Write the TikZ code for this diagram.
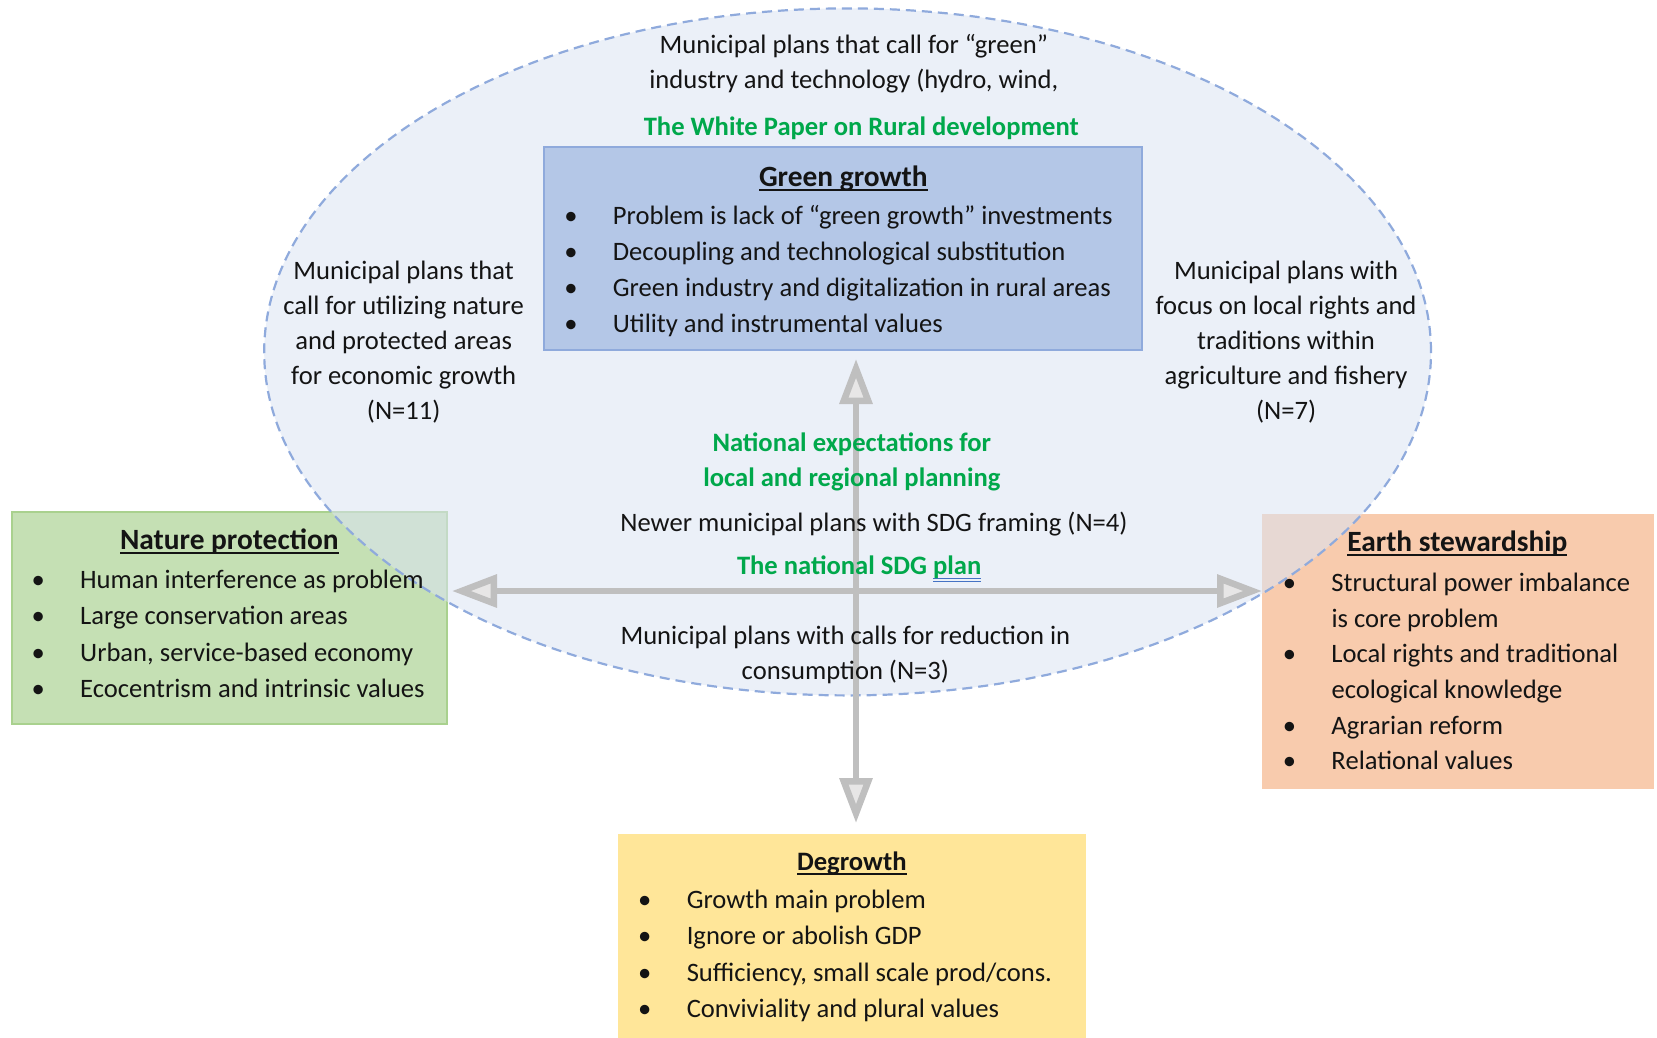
\documentclass[tikz,border=0pt]{standalone}
\usepackage{fontspec}
\setmainfont{Carlito}
\usetikzlibrary{arrows.meta}
\definecolor{ellfill}{RGB}{218,227,243}
\definecolor{elldraw}{RGB}{143,170,220}
\definecolor{ggfill}{RGB}{180,199,231}
\definecolor{ggdraw}{RGB}{143,170,220}
\definecolor{npfill}{RGB}{197,224,180}
\definecolor{npdraw}{RGB}{169,209,142}
\definecolor{esfill}{RGB}{248,203,173}
\definecolor{dgfill}{RGB}{255,230,153}
\definecolor{axisgray}{RGB}{191,191,191}
\definecolor{headfill}{RGB}{231,230,230}
\definecolor{greentxt}{RGB}{0,168,75}
\definecolor{txtc}{RGB}{20,20,20}
\definecolor{ulblue}{RGB}{68,114,196}
\newcommand\myul[1]{\setbox0\hbox{#1}\rlap{\rule[-4.5pt]{\wd0}{1.9pt}}\box0}
\newcommand\myuldbl[1]{\setbox0\hbox{#1}\rlap{\textcolor{ulblue}{\rule[-4.5pt]{\wd0}{0.9pt}}}\rlap{\textcolor{ulblue}{\rule[-7pt]{\wd0}{0.9pt}}}\box0}
\newcommand\mybul{\makebox[10pt][c]{\textbullet}\hspace{37pt}}
\begin{document}
\begin{tikzpicture}[x=1pt,y=-1pt,
  txt/.style={font=\fontsize{26.6}{34.9}\selectfont, inner sep=0pt, align=center, text=txtc},
  gtxt/.style={txt, font=\fontsize{26.6}{34.9}\selectfont\bfseries, text=greentxt},
  ttl/.style={txt, font=\fontsize{29.4}{34.9}\selectfont\bfseries},
  blist/.style={font=\fontsize{26.6}{36.3}\selectfont, inner sep=0pt, align=left, anchor=west, text=txtc},
  box/.style={inner sep=0pt, anchor=center},
  axis/.style={draw=axisgray, line width=6.5pt,
    {Triangle[length=45pt,width=32pt,fill=headfill]}-{Triangle[length=45pt,width=32pt,fill=headfill]}},
]
\useasboundingbox (0,0) rectangle (1657,1037);
% boxes under the ellipse
\node[box, fill=npfill, draw=npdraw, line width=2pt, minimum width=435pt, minimum height=212pt] (npbox) at (229.3,617.7) {};
\node[box, fill=esfill, minimum width=392pt, minimum height=275pt] (esbox) at (1457.9,651) {};
\node[box, fill=dgfill, minimum width=468pt, minimum height=210pt] (dgbox) at (852.3,938.9) {};
% ellipse
\path[fill=ellfill, fill opacity=0.55, draw=elldraw, line width=2.2pt, dash pattern=on 10pt off 6pt]
  (847.6,351.9) ellipse [x radius=583.4pt, y radius=343.5pt];
% axes
\coordinate (vtop) at (856,359);
\coordinate (vbot) at (856,823);
\coordinate (hl) at (452,591);
\coordinate (hr) at (1262,591);
\draw[axis] (vtop) -- (vbot);
\draw[axis] (hl) -- (hr);
% green growth box
\node[box, fill=ggfill, draw=ggdraw, line width=2pt, minimum width=598pt, minimum height=203pt] (ggbox) at (843.3,248.4) {};
% texts
\node[txt] (top) at (853.9,63.9) {Municipal plans that call for “green”\\industry and technology (hydro, wind,};
\node[gtxt] (white) at (861.3,127.8) {The White Paper on Rural development};
\node[ttl] (ggt) at (843.3,178.5) {\myul{Green growth}};
\node[blist] (ggl) at (565.7,271) {\mybul Problem is lack of “green growth” investments\\
\mybul Decoupling and technological substitution\\
\mybul Green industry and digitalization in rural areas\\
\mybul Utility and instrumental values};
\node[txt] (left) at (403.7,342.2) {Municipal plans that\\call for utilizing nature\\and protected areas\\for economic growth\\(N=11)};
\node[txt] (right) at (1286.1,342.2) {Municipal plans with\\focus on local rights and\\traditions within\\agriculture and fishery\\(N=7)};
\node[gtxt] (natexp) at (851.8,461.7) {National expectations for\\local and regional planning};
\node[txt] (newer) at (874,524) {Newer municipal plans with SDG framing (N=4)};
\node[gtxt] (sdg) at (859.2,568.9) {The national SDG \myuldbl{plan}};
\node[txt] (reduct) at (845.4,654.5) {Municipal plans with calls for reduction in\\consumption (N=3)};
\node[ttl] (npt) at (229.3,541) {\myul{Nature protection}};
\node[blist] (npl) at (33,634) {\mybul Human interference as problem\\
\mybul Large conservation areas\\
\mybul Urban, service-based economy\\
\mybul Ecocentrism and intrinsic values};
\node[ttl] (est) at (1457.3,543.1) {\myul{Earth stewardship}};
\node[blist, font=\fontsize{26.6}{35.7}\selectfont] (esl) at (1284.3,671.5) {\mybul Structural power imbalance\\
\hspace*{47pt}is core problem\\
\mybul Local rights and traditional\\
\hspace*{47pt}ecological knowledge\\
\mybul Agrarian reform\\
\mybul Relational values};
\node[ttl, font=\fontsize{26.6}{34.9}\selectfont\bfseries] (dgt) at (851.8,863.8) {\myul{Degrowth}};
\node[blist] (dgl) at (639.6,955.8) {\mybul Growth main problem\\
\mybul Ignore or abolish GDP\\
\mybul Sufficiency, small scale prod/cons.\\
\mybul Conviviality and plural values};
\end{tikzpicture}
\end{document}
